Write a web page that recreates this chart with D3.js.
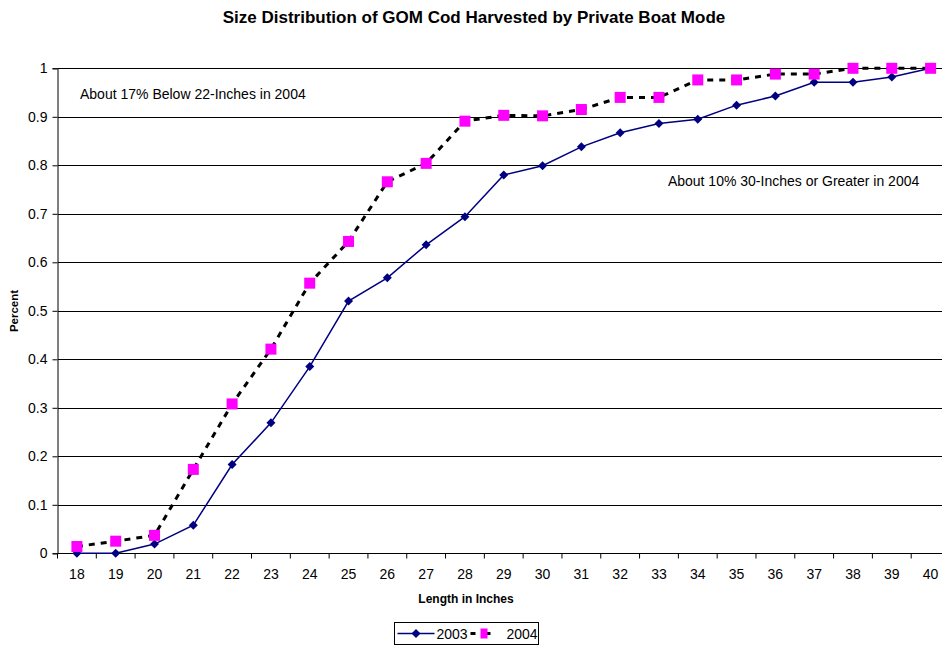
<!DOCTYPE html>
<html>
<head>
<meta charset="utf-8">
<script src="https://cdn.jsdelivr.net/npm/d3@7"></script>
<style>
  html, body { margin: 0; padding: 0; background: #fff; }
  svg { display: block; font-family: "Liberation Sans", Arial, sans-serif; }
</style>
</head>
<body>
<svg id="chart" width="942" height="646"></svg>
<script>
// ── Data ─────────────────────────────────────────────
const lengths = [18, 19, 20, 21, 22, 23, 24, 25, 26, 27, 28, 29, 30, 31, 32, 33, 34, 35, 36, 37, 38, 39, 40];
const share2003 = [0, 0, 0.019, 0.058, 0.183, 0.269, 0.385, 0.520, 0.568, 0.636, 0.694, 0.780, 0.799,
                   0.838, 0.867, 0.886, 0.895, 0.924, 0.943, 0.971, 0.971, 0.982, 1.0];
const share2004 = [0.014, 0.025, 0.037, 0.173, 0.308, 0.421, 0.557, 0.643, 0.766, 0.804, 0.891, 0.903, 0.902,
                   0.915, 0.940, 0.940, 0.976, 0.976, 0.988, 0.988, 1.0, 1.0, 1.0];
const yTicks = [0, 0.1, 0.2, 0.3, 0.4, 0.5, 0.6, 0.7, 0.8, 0.9, 1];
// note anchors: position along the category axis (in category steps) and value
const notes = [
  { text: 'About 17% Below 22-Inches in 2004', at: 0.58, y: 0.937 },
  { text: 'About 10% 30-Inches or Greater in 2004', at: 15.73, y: 0.757 }
];

// ── Layout ───────────────────────────────────────────
const svg = d3.select('#chart');
const margin = { left: 57.5, right: 950, top: 68.3, bottom: 553.3 };

const x = d3.scaleBand().domain(lengths).range([margin.left, margin.right]);
const xc = d => x(d) + x.bandwidth() / 2;
const xStep = d3.scaleLinear().domain([0, lengths.length]).range([margin.left, margin.right]);
const y = d3.scaleLinear().domain([0, 1]).range([margin.bottom, margin.top]);

// title
svg.append('text')
  .attr('x', 474).attr('y', 23)
  .attr('text-anchor', 'middle')
  .attr('font-size', 17).attr('font-weight', 'bold')
  .text('Size Distribution of GOM Cod Harvested by Private Boat Mode');

// grid lines
svg.append('g')
  .selectAll('line')
  .data(yTicks.filter(d => d > 0))
  .join('line')
    .attr('x1', margin.left).attr('x2', margin.right)
    .attr('y1', d => Math.round(y(d)) + 0.5).attr('y2', d => Math.round(y(d)) + 0.5)
    .attr('stroke', '#000').attr('stroke-width', 1)
    .attr('shape-rendering', 'crispEdges');

// y axis
const yAxis = svg.append('g')
  .attr('transform', `translate(${margin.left},0)`)
  .call(d3.axisLeft(y).tickValues(yTicks).tickSize(5).tickPadding(5).tickFormat(d => String(+d.toFixed(1))));
yAxis.select('.domain').attr('stroke', '#000');
yAxis.selectAll('.tick line').attr('stroke', '#000');
yAxis.selectAll('text').attr('font-size', 14).attr('fill', '#000')
  .attr('font-family', '"Liberation Sans", Arial, sans-serif');

// x axis (ticks between categories)
const xAxisG = svg.append('g')
  .attr('transform', `translate(0,${Math.round(margin.bottom) + 0.5})`);
xAxisG.append('line')
  .attr('x1', margin.left).attr('x2', margin.right)
  .attr('stroke', '#000').attr('shape-rendering', 'crispEdges');
xAxisG.selectAll('.tk')
  .data(lengths)
  .join('line')
    .attr('class', 'tk')
    .attr('x1', d => x(d)).attr('x2', d => x(d))
    .attr('y1', 0).attr('y2', 5)
    .attr('stroke', '#000');
xAxisG.selectAll('.lbl')
  .data(lengths)
  .join('text')
    .attr('class', 'lbl')
    .attr('x', d => xc(d)).attr('y', 25.5)
    .attr('text-anchor', 'middle')
    .attr('font-size', 14)
    .text(d => d);

// axis titles
svg.append('text')
  .attr('x', 466).attr('y', 603)
  .attr('text-anchor', 'middle')
  .attr('font-size', 12).attr('font-weight', 'bold')
  .text('Length in Inches');

svg.append('text')
  .attr('transform', 'rotate(-90)')
  .attr('x', -311).attr('y', 18)
  .attr('text-anchor', 'middle')
  .attr('font-size', 11.5).attr('font-weight', 'bold')
  .text('Percent');

// ── Series ───────────────────────────────────────────
const line = d3.line().x(d => xc(d[0])).y(d => y(d[1]));
const pts2003 = lengths.map((l, i) => [l, share2003[i]]);
const pts2004 = lengths.map((l, i) => [l, share2004[i]]);

svg.append('path')
  .datum(pts2004)
  .attr('d', line)
  .attr('fill', 'none')
  .attr('stroke', '#000')
  .attr('stroke-width', 3)
  .attr('stroke-dasharray', '6 6');

svg.append('path')
  .datum(pts2003)
  .attr('d', line)
  .attr('fill', 'none')
  .attr('stroke', '#000080')
  .attr('stroke-width', 1.5);

svg.append('g')
  .selectAll('path')
  .data(pts2003)
  .join('path')
    .attr('transform', d => `translate(${xc(d[0])},${y(d[1])})`)
    .attr('d', 'M0,-4.5L4.5,0L0,4.5L-4.5,0Z')
    .attr('fill', '#000080');

svg.append('g')
  .selectAll('rect')
  .data(pts2004)
  .join('rect')
    .attr('x', d => xc(d[0]) - 5.5).attr('y', d => y(d[1]) - 5.5)
    .attr('width', 11).attr('height', 11)
    .attr('fill', '#ff00ff');

// ── Notes ────────────────────────────────────────────
svg.selectAll('.note')
  .data(notes)
  .join('text')
    .attr('class', 'note')
    .attr('x', d => xStep(d.at))
    .attr('y', d => y(d.y))
    .attr('font-size', 14)
    .text(d => d.text);

// ── Legend ───────────────────────────────────────────
const lg = svg.append('g').attr('transform', 'translate(394.5,622.5)');
lg.append('rect')
  .attr('width', 144).attr('height', 22)
  .attr('fill', '#fff').attr('stroke', '#000');
lg.append('line')
  .attr('x1', 3).attr('x2', 40).attr('y1', 11).attr('y2', 11)
  .attr('stroke', '#000080').attr('stroke-width', 1.5);
lg.append('path')
  .attr('transform', 'translate(21.5,11)')
  .attr('d', 'M0,-4.5L4.5,0L0,4.5L-4.5,0Z')
  .attr('fill', '#000080');
lg.append('text').attr('x', 42).attr('y', 16.5).attr('font-size', 14).text('2003');
lg.append('line')
  .attr('x1', 76).attr('x2', 106).attr('y1', 11).attr('y2', 11)
  .attr('stroke', '#000').attr('stroke-width', 3).attr('stroke-dasharray', '5 10');
lg.append('rect')
  .attr('x', 86).attr('y', 6).attr('width', 7).attr('height', 10)
  .attr('fill', '#ff00ff');
lg.append('text').attr('x', 112).attr('y', 16.5).attr('font-size', 14).text('2004');
</script>
</body>
</html>
